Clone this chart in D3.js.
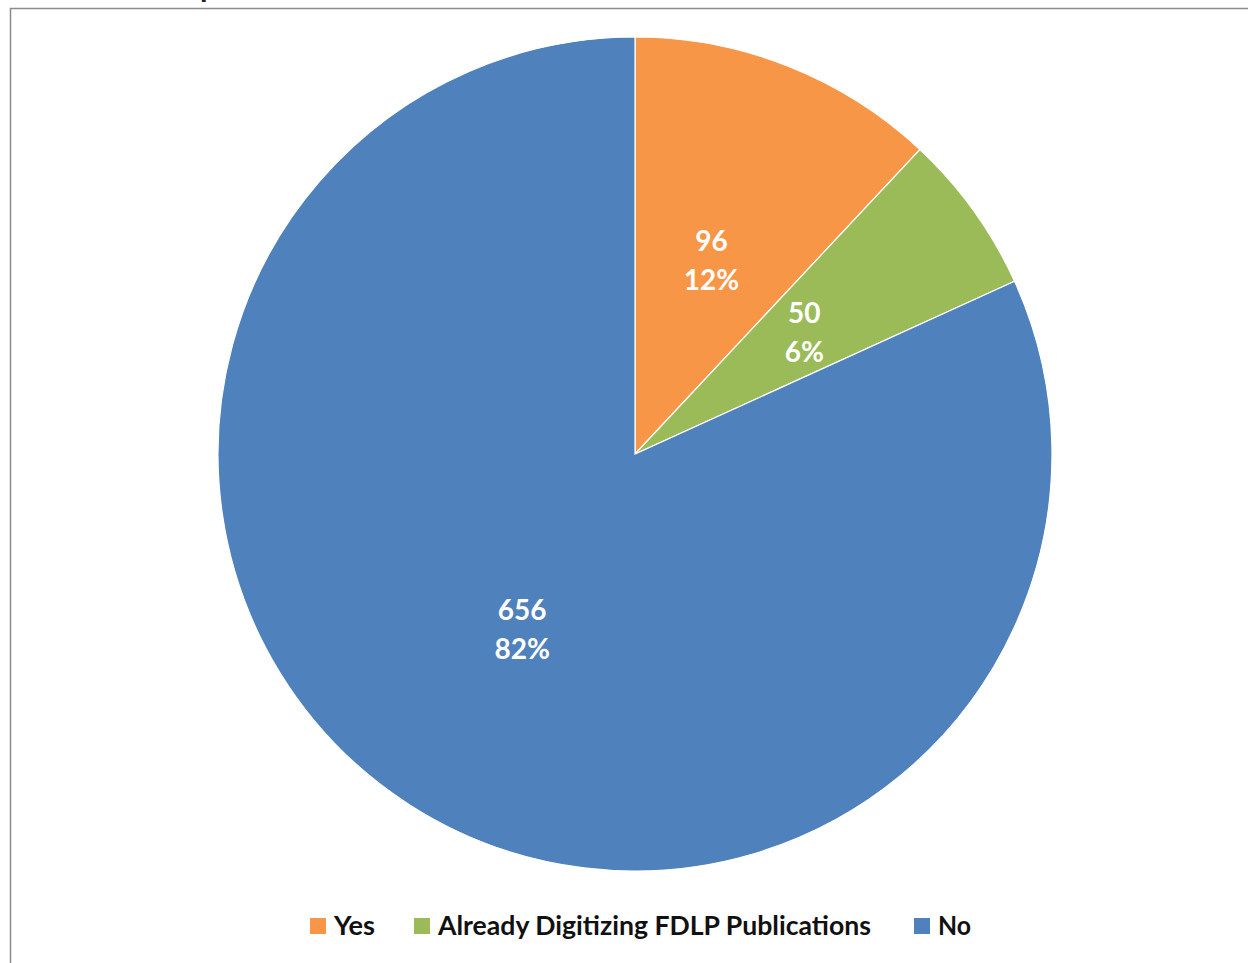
<!DOCTYPE html>
<html>
<head>
<meta charset="utf-8">
<script src="https://cdn.jsdelivr.net/npm/d3@7"></script>
<style>
  html, body { margin: 0; padding: 0; background: #fff; overflow: hidden; }
  svg { display: block; }
  text { font-family: Lato, "Open Sans", sans-serif; }
</style>
</head>
<body>
<svg id="chart" width="1248" height="963"></svg>
<script>
const categories = ["Yes", "Already Digitizing FDLP Publications", "No"];
const values = [96, 50, 656];
const colors = ["#F79646", "#9BBB59", "#4F81BD"];
const titleText = "Number of Respondents";

const W = 1248, H = 963;
const svg = d3.select("#chart");

// title, cut off at the top edge as in the source image
svg.append("text")
  .attr("x", -2).attr("y", -2)
  .attr("font-size", 24).attr("font-weight", "bold")
  .attr("fill", "#222")
  .attr("textLength", 330).attr("lengthAdjust", "spacingAndGlyphs")
  .text(titleText);

// chart frame
svg.append("rect")
  .attr("x", 10.5).attr("y", 8.5)
  .attr("width", W + 20).attr("height", H + 20)
  .attr("fill", "#fff").attr("stroke", "#8c8c8c").attr("stroke-width", 1.5);

const cx = 635, cy = 454, r = 417;
const total = d3.sum(values);
const data = categories.map((c, i) => ({ cat: c, value: values[i], color: colors[i] }));

const pie = d3.pie().value(d => d.value).sort(null);
const arcs = pie(data);
const arc = d3.arc().innerRadius(0).outerRadius(r);
const labelArc = d3.arc().innerRadius(r * 0.5).outerRadius(r * 0.5);

const g = svg.append("g").attr("transform", `translate(${cx},${cy})`);
g.selectAll("path.slice").data(arcs).join("path")
  .attr("class", "slice")
  .attr("d", arc)
  .attr("fill", d => d.data.color)
  .attr("stroke", "#fff").attr("stroke-width", 1.2);

const lbl = g.selectAll("g.lbl").data(arcs).join("g")
  .attr("class", "lbl")
  .attr("transform", d => `translate(${labelArc.centroid(d)})`);
lbl.append("text")
  .attr("text-anchor", "middle").attr("y", -9)
  .attr("font-size", 28).attr("font-weight", "bold").attr("fill", "#fff")
  .text(d => d.data.value);
lbl.append("text")
  .attr("text-anchor", "middle").attr("y", 30)
  .attr("font-size", 28).attr("font-weight", "bold").attr("fill", "#fff")
  .text(d => Math.round(d.data.value / total * 100) + "%");

// legend
const legY = 926;
const legendXs = [310, 414, 914];
const legendWidths = [41, 433, 33];
const leg = svg.append("g");
data.forEach((d, i) => {
  const x = legendXs[i];
  leg.append("rect").attr("x", x).attr("y", legY - 8).attr("width", 16).attr("height", 16)
    .attr("fill", d.color);
  leg.append("text").attr("x", x + 24).attr("y", legY).attr("dy", "0.35em")
    .attr("font-size", 26).attr("font-weight", "bold").attr("fill", "#111")
    .attr("textLength", legendWidths[i]).attr("lengthAdjust", "spacingAndGlyphs")
    .text(d.cat);
});
</script>
</body>
</html>
